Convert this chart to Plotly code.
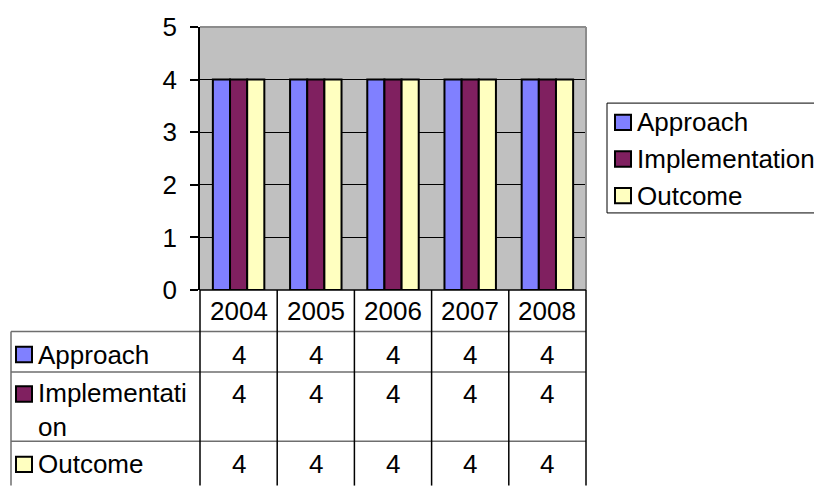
import plotly.graph_objects as go

# Data
years = ["2004", "2005", "2006", "2007", "2008"]
series_names = ["Approach", "Implementation", "Outcome"]
table_labels = ["Approach", "Implementati<br>on", "Outcome"]
approach = [4, 4, 4, 4, 4]
implementation = [4, 4, 4, 4, 4]
outcome = [4, 4, 4, 4, 4]
colors = ["#8080FF", "#802060", "#FFFFC0"]

values = [approach, implementation, outcome]

FONT = "Liberation Sans, Arial, sans-serif"
FS = 26

# Figure / plot-area geometry (pixels)
FW, FH = 814, 488
L, R, T, B = 200, 586, 17, 290
PW, PH = R - L, B - T


def fx(p):
    return (p - L) / PW


def fy(p):
    return (B - p) / PH


fig = go.Figure()
for name, vals, col in zip(series_names, values, colors):
    fig.add_trace(go.Bar(
        x=years, y=vals, name=name,
        marker=dict(color=col, line=dict(color="black", width=2)),
        showlegend=False,
    ))

shapes = []
annotations = []

# Plot-area frame (top and right edges)
shapes.append(dict(type="line", xref="paper", yref="paper", x0=0, x1=1, y0=1, y1=1,
                   line=dict(color="#8C8C8C", width=2)))
shapes.append(dict(type="line", xref="paper", yref="paper", x0=1, x1=1, y0=0, y1=1,
                   line=dict(color="#8C8C8C", width=2)))

# Data table grid
row_lines = [333, 375, 447]
table_left = 11
table_bottom = FH + 5
shapes.append(dict(type="line", xref="paper", yref="paper", x0=fx(L), x1=fx(R), y0=fy(B), y1=fy(B),
                   line=dict(color="black", width=1.5)))
for yl in row_lines:
    shapes.append(dict(type="line", xref="paper", yref="paper",
                       x0=fx(table_left), x1=fx(R), y0=fy(yl), y1=fy(yl),
                       line=dict(color="#6E6E6E", width=1.5)))
shapes.append(dict(type="line", xref="paper", yref="paper",
                   x0=fx(table_left), x1=fx(table_left), y0=fy(row_lines[0]), y1=fy(table_bottom),
                   line=dict(color="#6E6E6E", width=1.5)))
col_w = PW / len(years)
for i in range(len(years) + 1):
    xp = L + i * col_w
    shapes.append(dict(type="line", xref="paper", yref="paper",
                       x0=fx(xp), x1=fx(xp), y0=fy(B), y1=fy(table_bottom),
                       line=dict(color="black", width=1.5)))

# Year header row (category index positions on the x axis)
for i, yr in enumerate(years):
    annotations.append(dict(x=i, xref="x", y=fy(312), yref="paper", text=yr,
                            showarrow=False, xanchor="center", yanchor="middle",
                            font=dict(family=FONT, size=FS, color="black")))

# Series rows: key square, label and values
row_text_y = [357, 398, 471]
label_y = [357, 415, 471]
for label, vals, col, ty, ly in zip(table_labels, values, colors, row_text_y, label_y):
    shapes.append(dict(type="rect", xref="paper", yref="paper",
                       x0=fx(16), x1=fx(32), y0=fy(ty - 8), y1=fy(ty + 8),
                       fillcolor=col, line=dict(color="black", width=2)))
    annotations.append(dict(x=fx(36), xref="paper", y=fy(ly), yref="paper", text=label,
                            showarrow=False, xanchor="left", yanchor="middle", align="left",
                            font=dict(family=FONT, size=FS, color="black")))
    for i, v in enumerate(vals):
        annotations.append(dict(x=i, xref="x", y=fy(ty), yref="paper", text=str(v),
                                showarrow=False, xanchor="center", yanchor="middle",
                                font=dict(family=FONT, size=FS, color="black")))

# Legend box
leg_l, leg_t, leg_b = 607, 96, 210
shapes.append(dict(type="rect", xref="paper", yref="paper",
                   x0=fx(leg_l), x1=fx(FW + 5), y0=fy(leg_t), y1=fy(leg_b),
                   fillcolor="white", line=dict(color="black", width=1), layer="below"))
for k, (name, col) in enumerate(zip(series_names, colors)):
    cy = 116 + 38 * k
    shapes.append(dict(type="rect", xref="paper", yref="paper",
                       x0=fx(615), x1=fx(631), y0=fy(cy - 8), y1=fy(cy + 8),
                       fillcolor=col, line=dict(color="black", width=2)))
    annotations.append(dict(x=fx(635), xref="paper", y=fy(cy), yref="paper", text=name,
                            showarrow=False, xanchor="left", yanchor="middle",
                            font=dict(family=FONT, size=FS, color="black")))

fig.update_layout(
    width=FW, height=FH,
    margin=dict(l=L, r=FW - R, t=T, b=FH - B, pad=0),
    paper_bgcolor="white",
    plot_bgcolor="#C0C0C0",
    barmode="group",
    bargap=1 / 3,
    bargroupgap=0,
    shapes=shapes,
    annotations=annotations,
    font=dict(family=FONT, size=FS, color="black"),
    xaxis=dict(type="category", range=[-0.5, len(years) - 0.5], showticklabels=False,
               showgrid=False, zeroline=False, showline=False, ticks=""),
    yaxis=dict(range=[0, 5], dtick=1, tick0=0, showgrid=True, gridcolor="black", gridwidth=1,
               zeroline=False, showline=True, linecolor="black", linewidth=1.5,
               ticks="outside", ticklen=8, tickcolor="black", tickwidth=1.5,
               ticklabelstandoff=8,
               tickfont=dict(family=FONT, size=FS, color="black")),
)

fig.write_html("out.html")
